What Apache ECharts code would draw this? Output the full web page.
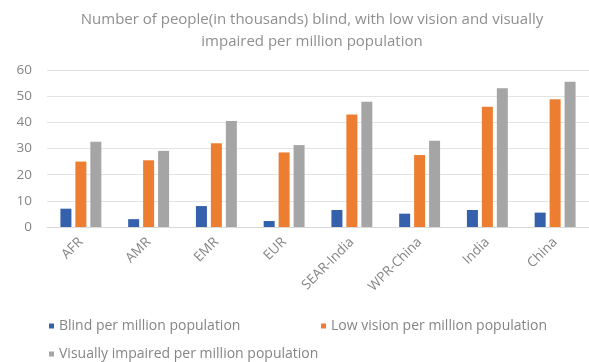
<!DOCTYPE html>
<html>
<head>
<meta charset="utf-8">
<script src="https://cdn.jsdelivr.net/npm/echarts@6/dist/echarts.min.js"></script>
<style>
  html, body { margin: 0; padding: 0; background: #fff; }
  #chart { width: 589px; height: 362px; }
</style>
</head>
<body>
<div id="chart"></div>
<script>
var categories = ["AFR", "AMR", "EMR", "EUR", "SEAR-India", "WPR-China", "India", "China"];
var blind = [7.0, 3.0, 8.0, 2.3, 6.5, 5.1, 6.5, 5.5];
var lowVision = [25.0, 25.5, 32.0, 28.5, 43.0, 27.5, 46.0, 48.8];
var impaired = [32.6, 29.1, 40.5, 31.3, 47.9, 33.0, 53.0, 55.5];
var seriesNames = ["Blind per million population", "Low vision per million population", "Visually impaired per million population"];

var txt = "#858585";
var font = "Open Sans";

var chart = echarts.init(document.getElementById("chart"));
chart.setOption({
  animation: false,
  color: ["#3560ab", "#ed7d31", "#a5a5a5"],
  title: {
    text: "Number of people(in thousands) blind, with low vision and visually\nimpaired per million population",
    left: 307,
    top: 4,
    textAlign: "center",
    textStyle: { color: "#8f8f8f", fontSize: 15, fontWeight: "normal", fontFamily: font, lineHeight: 22 }
  },
  legend: [
    {
      data: [seriesNames[0]], left: 44, top: 314, icon: "rect", itemWidth: 5, itemHeight: 5, itemGap: 2,
      textStyle: { color: txt, fontSize: 14, fontFamily: font }
    },
    {
      data: [seriesNames[1]], left: 316, top: 314, icon: "rect", itemWidth: 5, itemHeight: 5, itemGap: 2,
      textStyle: { color: txt, fontSize: 14, fontFamily: font }
    },
    {
      data: [seriesNames[2]], left: 44, top: 342, icon: "rect", itemWidth: 5, itemHeight: 5, itemGap: 2,
      textStyle: { color: txt, fontSize: 14, fontFamily: font }
    }
  ],
  grid: { left: 47, right: -7, top: 70, bottom: 135 },
  xAxis: {
    type: "category",
    data: categories,
    axisLine: { lineStyle: { color: "#d9d9d9" } },
    axisTick: { show: false },
    axisLabel: { rotate: 45, color: txt, fontSize: 13.5, fontFamily: font, interval: 0, margin: 13 }
  },
  yAxis: {
    type: "value",
    min: 0, max: 60, interval: 10,
    axisLine: { show: false },
    axisTick: { show: false },
    splitLine: { lineStyle: { color: "#e3e3e3" } },
    axisLabel: { color: txt, fontSize: 13.5, fontFamily: font, margin: 15 }
  },
  series: [
    { name: seriesNames[0], type: "bar", data: blind, barWidth: 11, barGap: "36%" },
    { name: seriesNames[1], type: "bar", data: lowVision, barWidth: 11, barGap: "36%" },
    { name: seriesNames[2], type: "bar", data: impaired, barWidth: 11, barGap: "36%" }
  ]
});
</script>
</body>
</html>
